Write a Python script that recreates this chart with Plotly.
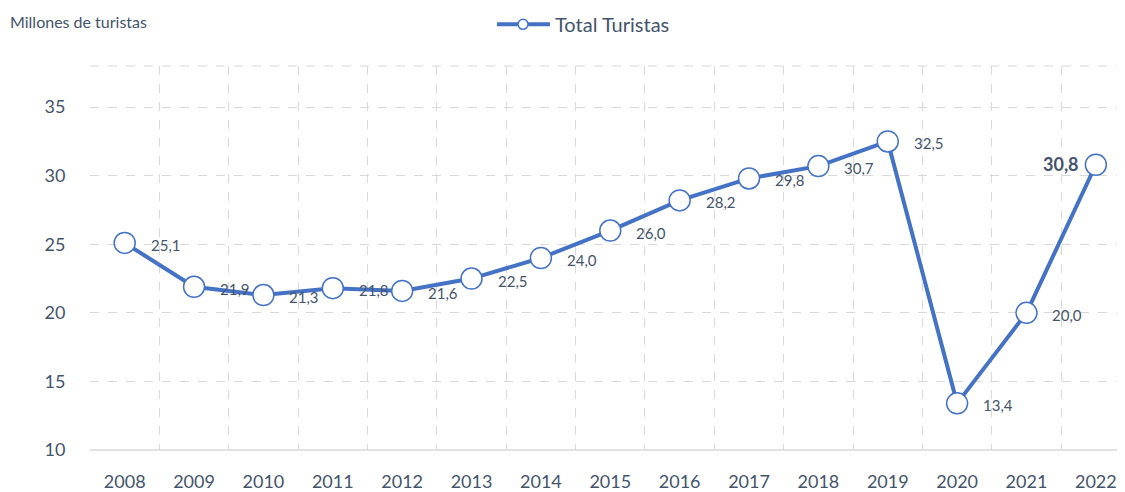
import plotly.graph_objects as go

years = ["2008", "2009", "2010", "2011", "2012", "2013", "2014", "2015",
         "2016", "2017", "2018", "2019", "2020", "2021", "2022"]
turistas = [25.1, 21.9, 21.3, 21.8, 21.6, 22.5, 24.0, 26.0,
            28.2, 29.8, 30.7, 32.5, 13.4, 20.0, 30.8]
y_ticks = [10, 15, 20, 25, 30, 35]
series_name = "Total Turistas"
y_title = "Millones de turistas"

BLUE = "#4472C4"
TXT = "#44546A"
GRID = "#D9D9D9"
FONT = "Lato"

idx = list(range(len(years)))

fig = go.Figure()
fig.add_trace(go.Scatter(
    x=idx, y=turistas, mode="lines+markers", name=series_name,
    line=dict(color=BLUE, width=4),
    marker=dict(size=21, color="white", line=dict(color=BLUE, width=1.5)),
    showlegend=False, hoverinfo="skip",
))

for i, v in zip(idx, turistas):
    label = f"{v:.1f}".replace(".", ",")
    if i == len(idx) - 1:
        fig.add_annotation(x=i, y=v, text=f"<b>{label}</b>", showarrow=False,
                           xanchor="right", yanchor="middle", xshift=-15, yshift=1,
                           font=dict(family=FONT, size=18, color=TXT))
    else:
        fig.add_annotation(x=i, y=v, text=label, showarrow=False,
                           xanchor="left", yanchor="middle", xshift=24, yshift=-2,
                           font=dict(family=FONT, size=15, color=TXT))

# top border line (dashed) and bottom axis line (solid)
fig.add_shape(type="line", xref="paper", yref="paper", x0=0, x1=1, y0=1, y1=1,
              line=dict(color=GRID, width=1, dash="dash"), layer="below")
fig.add_shape(type="line", xref="paper", yref="paper", x0=0, x1=1, y0=0, y1=0,
              line=dict(color=GRID, width=1.5), layer="below")

# custom legend
LEG_Y = 1.1085
fig.add_shape(type="line", xref="paper", yref="paper", x0=0.3932, x1=0.4444,
              y0=LEG_Y, y1=LEG_Y, line=dict(color=BLUE, width=4))
fig.add_shape(type="circle", xref="paper", yref="paper",
              xsizemode="pixel", ysizemode="pixel",
              xanchor=0.4184, yanchor=LEG_Y, x0=-5, x1=5, y0=-5, y1=5,
              fillcolor="white", line=dict(color=BLUE, width=1.5))
fig.add_annotation(text=series_name, xref="paper", yref="paper", x=0.4473, y=LEG_Y,
                   xanchor="left", yanchor="middle", showarrow=False,
                   font=dict(family=FONT, size=20, color=TXT))

fig.add_annotation(text=y_title, xref="paper", yref="paper", x=-0.0792, y=1.116,
                   xanchor="left", yanchor="middle", showarrow=False,
                   font=dict(family=FONT, size=16, color=TXT))

fig.update_layout(
    width=1117, height=484,
    margin=dict(l=82, r=0, t=58, b=39),
    paper_bgcolor="white", plot_bgcolor="white",
    font=dict(family=FONT, color=TXT),
    showlegend=False,
    xaxis=dict(
        range=[-0.5, 14.42], tickmode="array", tickvals=idx, ticktext=years,
        showgrid=False, zeroline=False, showline=False,
        ticks="outside", ticklen=15, tickcolor="rgba(0,0,0,0)",
        tickfont=dict(family=FONT, size=18, color=TXT),
        minor=dict(tick0=-0.5, dtick=1, showgrid=True, gridcolor=GRID,
                   griddash="dash", gridwidth=1),
    ),
    yaxis=dict(
        range=[10, 38], tickmode="array", tickvals=y_ticks,
        showgrid=True, gridcolor=GRID, griddash="dash", gridwidth=1,
        zeroline=False, showline=False,
        ticks="outside", ticklen=20, tickcolor="rgba(0,0,0,0)",
        tickfont=dict(family=FONT, size=18, color=TXT),
    ),
)

fig.write_html("out.html")
